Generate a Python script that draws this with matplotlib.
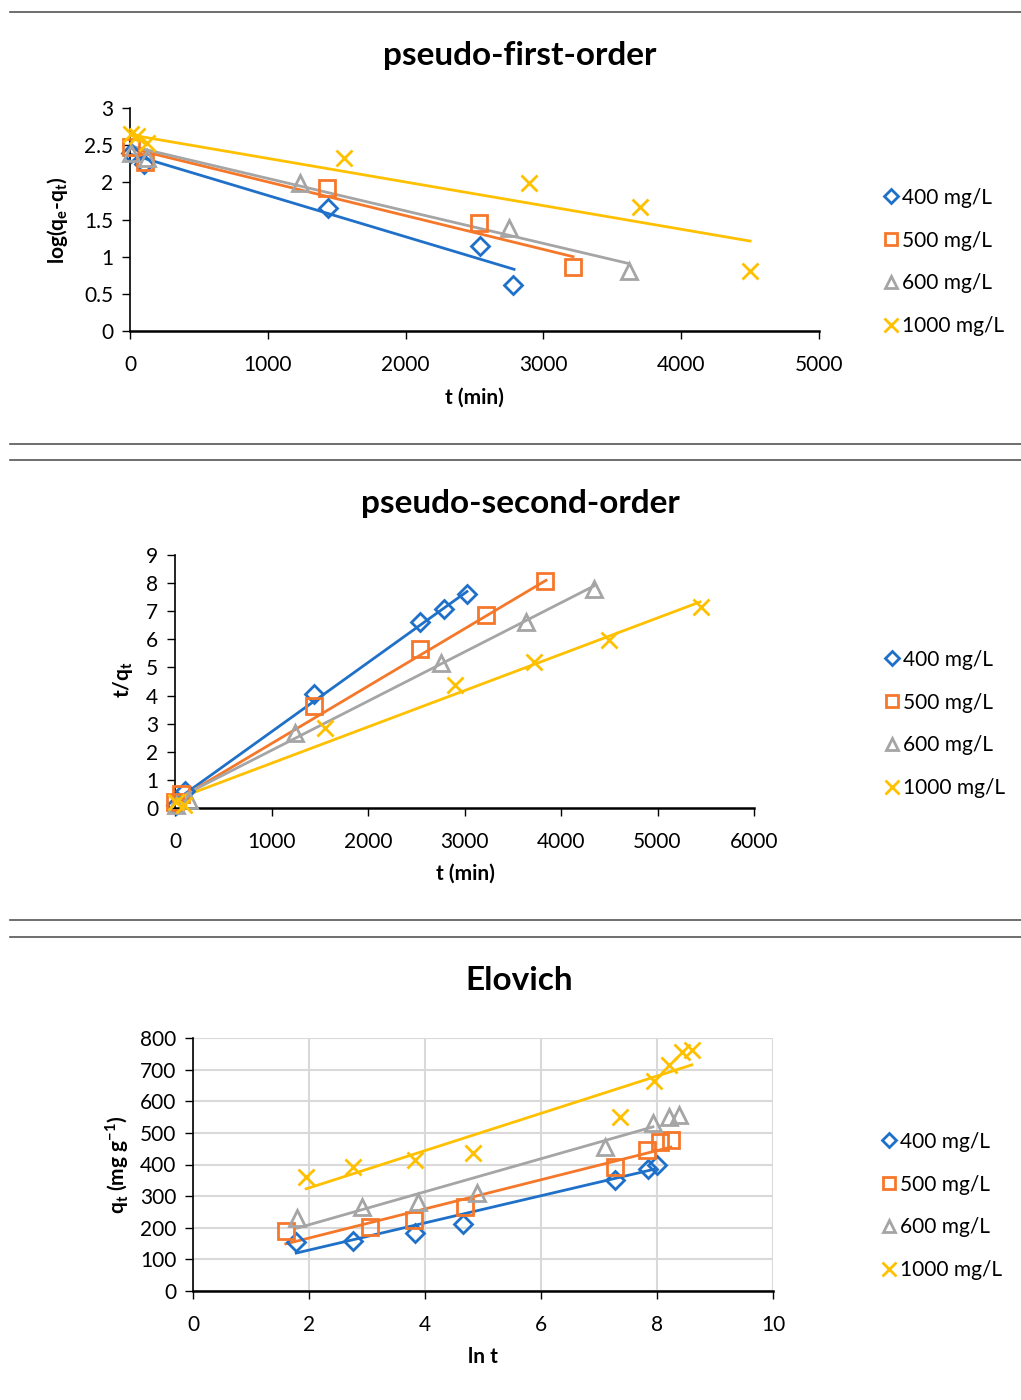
import matplotlib
matplotlib.use("Agg")
import matplotlib.pyplot as plt
from matplotlib.lines import Line2D
from matplotlib.ticker import FuncFormatter

plt.rcParams['font.family'] = ['Lato', 'DejaVu Sans']
plt.rcParams['mathtext.fontset'] = 'custom'
plt.rcParams['mathtext.rm'] = 'Lato'

#-----------Data------------
labels = ["400 mg/L", "500 mg/L", "600 mg/L", "1000 mg/L"]
colors = ["#1F70C8", "#F5782A", "#A5A5A5", "#FFC000"]
markers = ["D", "s", "^", "x"]

# pseudo-first-order: log(qe-qt) vs t
pfo_t = [
    [10, 100, 1440, 2540, 2780],
    [5, 110, 1430, 2535, 3215],
    [5, 120, 1235, 2750, 3620],
    [5, 50, 120, 1553, 2895, 3700, 4500],
]
pfo_y = [
    [2.40, 2.25, 1.65, 1.14, 0.62],
    [2.48, 2.28, 1.92, 1.45, 0.86],
    [2.39, 2.33, 1.99, 1.39, 0.81],
    [2.65, 2.63, 2.53, 2.33, 1.99, 1.67, 0.81],
]
# trend line end points (t, value)
pfo_fit_t = [[0, 2787], [0, 3215], [0, 3614], [0, 4500]]
pfo_fit_y = [[2.38, 0.83], [2.46, 1.00], [2.49, 0.91], [2.64, 1.21]]

# pseudo-second-order: t/qt vs t
pso_t = [
    [10, 100, 1440, 2540, 2788, 3026],
    [5, 60, 1440, 2540, 3223, 3834],
    [10, 150, 1243, 2756, 3637, 4342],
    [15, 90, 1554, 2901, 3720, 4497, 5450],
]
pso_y = [
    [0.1, 0.6, 4.06, 6.62, 7.08, 7.60],
    [0.2, 0.5, 3.63, 5.66, 6.87, 8.08],
    [0.1, 0.3, 2.67, 5.16, 6.62, 7.79],
    [0.2, 0.1, 2.85, 4.38, 5.20, 5.98, 7.15],
]
pso_fit_t = [[0, 3026], [0, 3845], [0, 4342], [0, 5440]]
pso_fit_y = [[0.25, 7.70], [0.25, 8.10], [0.30, 7.90], [0.30, 7.33]]

# Elovich: qt vs ln t
elo_x = [
    [1.78, 2.76, 3.83, 4.66, 7.28, 7.84, 8.00],
    [1.60, 3.05, 3.81, 4.69, 7.28, 7.83, 8.05, 8.24],
    [1.80, 2.92, 3.88, 4.90, 7.10, 7.93, 8.20, 8.38],
    [1.95, 2.76, 3.83, 4.83, 7.36, 7.95, 8.20, 8.43, 8.60],
]
elo_y = [
    [155, 158, 184, 212, 351, 386, 399],
    [190, 202, 225, 266, 392, 446, 471, 478],
    [231, 266, 282, 310, 456, 531, 551, 557],
    [361, 392, 414, 437, 551, 665, 715, 756, 762],
]
elo_fit_x = [[1.78, 7.95], [1.60, 8.24], [1.80, 7.93], [1.95, 8.60]]
elo_fit_y = [[120, 385], [149, 455], [199, 519], [323, 715]]

W, H = 1021, 1400

def fx(px):
    return px / W

def fy(py):
    return 1 - py / H

#-----------Plotters------------
def draw_panel(fig, box, xs, ys, fit_x, fit_y, xlim, ylim, xticks, yticks,
               title, title_pos, xlabel, xlabel_pos, ylabel, ylabel_pos,
               legend_pos, grid=False):
    left, top, right, bottom = box
    ax = fig.add_axes([fx(left), fy(bottom), fx(right - left), (bottom - top) / H])
    for i in range(4):
        ax.plot(fit_x[i], fit_y[i], color=colors[i], lw=2, zorder=2)
        ms = {"D": 9, "s": 11, "^": 11, "x": 12}[markers[i]]
        ax.plot(xs[i], ys[i], linestyle="none", marker=markers[i], ms=ms,
                mfc="none" if markers[i] != "x" else colors[i],
                mec=colors[i], mew=2, color=colors[i], label=labels[i],
                zorder=3, clip_on=False)
    ax.set_xlim(*xlim)
    ax.set_ylim(*ylim)
    ax.set_xticks(xticks)
    ax.set_yticks(yticks)
    ax.yaxis.set_major_formatter(FuncFormatter(lambda v, p: f"{v:g}"))
    ax.tick_params(labelsize=15, width=1, length=6, color="#000000")
    ax.tick_params(axis="x", pad=11)
    ax.tick_params(axis="y", pad=6)
    for s in ["top", "right"]:
        ax.spines[s].set_visible(False)
    ax.spines["bottom"].set_linewidth(1.8)
    ax.spines["left"].set_linewidth(1.2)
    if grid:
        ax.grid(True, color="#D9D9D9", lw=1.5)
        ax.set_axisbelow(True)
    ax.set_facecolor("none")

    fig.text(fx(title_pos[0]), fy(title_pos[1]), title, fontsize=24,
             fontweight="bold", ha="center", va="center")
    fig.text(fx(xlabel_pos[0]), fy(xlabel_pos[1]), xlabel, fontsize=15,
             fontweight="bold", ha="center", va="center")
    fig.text(fx(ylabel_pos[0]), fy(ylabel_pos[1]), ylabel, fontsize=15,
             fontweight="bold", ha="center", va="center", rotation=90)
    ax.legend(loc="center left", bbox_to_anchor=(fx(legend_pos[0]), fy(legend_pos[1])),
              bbox_transform=fig.transFigure, frameon=False, fontsize=15,
              labelspacing=1.1, handlelength=0.6, handletextpad=0.25,
              markerscale=0.8, borderpad=0)
    return ax


fig = plt.figure(figsize=(W / 100, H / 100), dpi=100)

# separators
for py in [12, 444, 460, 920, 937]:
    fig.add_artist(Line2D([fx(10), 1.0], [fy(py), fy(py)], color="#555555", lw=1.2))

draw_panel(fig, (130, 108, 819, 331), pfo_t, pfo_y, pfo_fit_t, pfo_fit_y,
           (0, 5000), (0, 3), range(0, 5001, 1000), [0, 0.5, 1, 1.5, 2, 2.5, 3],
           "pseudo-first-order", (520, 55), "t (min)", (474, 398),
           r"log(q$_\mathregular{e}$-q$_\mathregular{t}$)", (58, 220), (874, 262))

draw_panel(fig, (175, 555, 754, 808), pso_t, pso_y, pso_fit_t, pso_fit_y,
           (0, 6000), (0, 9), range(0, 6001, 1000), range(0, 10),
           "pseudo-second-order", (520, 504), "t (min)", (465, 874),
           r"t/q$_\mathregular{t}$", (123, 680), (875, 724))

draw_panel(fig, (193, 1038, 773, 1291), elo_x, elo_y, elo_fit_x, elo_fit_y,
           (0, 10), (0, 800), range(0, 11, 2), range(0, 801, 100),
           "Elovich", (519, 981), "ln t", (483, 1357),
           r"q$_\mathregular{t}$ (mg g$^\mathregular{-1}$)", (117, 1165), (872, 1206),
           grid=True)

fig.savefig("out.png", dpi=100)
